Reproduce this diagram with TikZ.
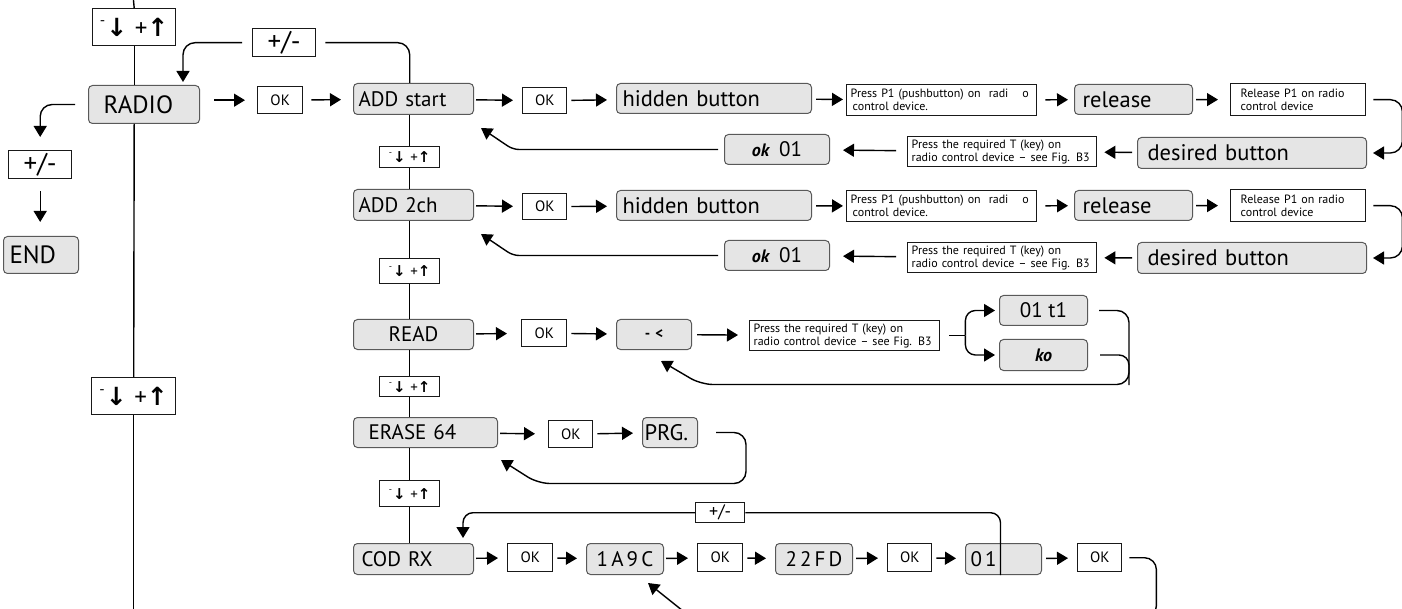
\documentclass[tikz,border=0pt]{standalone}
\usepackage{graphicx}
\usepackage{fontspec}
\setmainfont{PT Sans}
\newfontfamily\arrowfont{DejaVu Sans}
\usetikzlibrary{arrows.meta}

\newcommand\hugetxt{\fontsize{25}{28}\selectfont}
\newcommand\bigtxt{\fontsize{22.5}{25}\selectfont}
\newcommand\medtxt{\fontsize{21}{24}\selectfont}
\newcommand\keytxt{\fontsize{15}{17}\selectfont}
\newcommand\oktxt{\fontsize{15}{16}\selectfont}
\newcommand\notetxt{\fontsize{12}{13}\selectfont}
\newcommand\minusplus{\raisebox{.45em}{\scalebox{.6}{-}}\hspace{1pt}{\arrowfont\bfseries ↓}\hspace{.3em}+{\arrowfont\bfseries ↑}}
\newcommand\okglyph{{\bfseries\itshape\fontsize{18}{20}\selectfont ok}}
\newcommand\spaced[1]{{\addfontfeatures{LetterSpace=15}#1}}

\begin{document}
\begin{tikzpicture}[x=1pt, y=-1pt,
  gbox/.style={draw=black!65, fill=black!10, rounded corners=4pt, line width=1pt, anchor=north west, inner ysep=0pt, font=\bigtxt},
  wbox/.style={draw=black!90, fill=white, line width=1.4pt, anchor=north west, inner sep=0pt, font=\oktxt},
  note/.style={wbox, font=\notetxt, align=left, inner xsep=4pt},
  keys/.style={wbox, font=\keytxt},
  flow/.style={-{Triangle[length=11pt,width=13pt]}, line width=1.4pt, shorten <=4pt, shorten >=9pt},
  back/.style={-{Triangle[length=11pt,width=13pt]}, line width=1.4pt},
  wire/.style={line width=1.4pt}]
  \useasboundingbox (0,0) rectangle (1402,609);

  \node[keys, minimum width=83pt, minimum height=37pt, font=\hugetxt] (pm1) at (92,8) {\minusplus};
  \node[gbox, minimum height=38pt, text width=81pt, inner xsep=15pt, font=\hugetxt] (radio) at (88,85) {RADIO};
  \node[wbox, minimum width=63pt, minimum height=28pt, font=\fontsize{27}{28}\selectfont] (pmradio) at (8,150) {+/-};
  \node[gbox, minimum height=37pt, text width=63pt, inner xsep=6pt, font=\hugetxt] (end) at (3,236) {END};
  \node[keys, minimum width=84pt, minimum height=37pt, font=\hugetxt] (pm2) at (91,377) {\minusplus};
  \node[wbox, minimum width=63pt, minimum height=28pt, font=\fontsize{27}{28}\selectfont] (pmtop) at (252,28) {+/-};
  \node[wbox, minimum width=45pt, minimum height=27pt] (okradio) at (257,86) {OK};

  \node[gbox, minimum height=31pt, text width=110pt, inner xsep=5pt, font=\medtxt] (addstart) at (353,83) {ADD start};
  \node[wbox, minimum width=44pt, minimum height=26pt] (ok1) at (522,87) {OK};
  \node[gbox, minimum height=30pt, text width=183pt, inner xsep=6pt] (hidden1) at (616,83) {hidden button};
  \node[note, minimum height=31pt, text width=182pt] (press1) at (846,84) {Press P1 (pushbutton) on\ \ radi\hspace{14pt}o\\\hspace*{2pt}control device.};
  \node[gbox, minimum height=30pt, text width=102pt, inner xsep=8pt] (release1) at (1074,84) {release};
  \node[note, minimum height=32pt, text width=115pt, inner xsep=10pt] (rel1) at (1230,83) {Release P1 on radio\\control device};
  \node[gbox, minimum height=31pt, text width=209pt, inner xsep=10pt] (desired1) at (1137,137) {desired button};
  \node[note, minimum height=30pt, text width=181pt] (req1) at (907,136) {Press the required T (key) on\\radio control device -- see Fig. B3};
  \node[gbox, minimum width=105pt, minimum height=30pt, font=\medtxt] (ok01a) at (724,134) {\okglyph\hspace{10pt}01};
  \node[keys, minimum width=60pt, minimum height=21pt] (c1) at (379,146) {\minusplus};

  \node[gbox, minimum height=31pt, text width=110pt, inner xsep=5pt, font=\medtxt] (add2ch) at (353,189) {ADD 2ch};
  \node[wbox, minimum width=44pt, minimum height=26pt] (ok2) at (522,193) {OK};
  \node[gbox, minimum height=30pt, text width=183pt, inner xsep=6pt] (hidden2) at (616,190) {hidden button};
  \node[note, minimum height=31pt, text width=182pt] (press2) at (846,190) {Press P1 (pushbutton) on\ \ radi\hspace{14pt}o\\\hspace*{2pt}control device.};
  \node[gbox, minimum height=30pt, text width=102pt, inner xsep=8pt] (release2) at (1074,190) {release};
  \node[note, minimum height=32pt, text width=115pt, inner xsep=10pt] (rel2) at (1230,189) {Release P1 on radio\\control device};
  \node[gbox, minimum height=31pt, text width=209pt, inner xsep=10pt] (desired2) at (1137,242) {desired button};
  \node[note, minimum height=30pt, text width=181pt] (req2) at (907,242) {Press the required T (key) on\\radio control device -- see Fig. B3};
  \node[gbox, minimum width=105pt, minimum height=30pt, font=\medtxt] (ok01b) at (724,240) {\okglyph\hspace{10pt}01};
  \node[keys, minimum width=60pt, minimum height=25pt] (c2) at (379,258) {\minusplus};

  \node[gbox, minimum width=120pt, minimum height=30pt, font=\medtxt] (read) at (353,319) {READ};
  \node[wbox, minimum width=45pt, minimum height=27pt] (okread) at (521,319) {OK};
  \node[gbox, minimum width=75pt, minimum height=30pt, font=\keytxt] (dash) at (616,319) {\textbf{-}\hspace{5pt}\textbf{<}\hspace{16pt}};
  \node[note, minimum height=30pt, text width=182pt] (reqread) at (749,320) {Press the required T (key) on\\radio control device -- see Fig. B3};
  \node[gbox, minimum width=88pt, minimum height=30pt, font=\medtxt] (t1) at (999,295) {01 t1};
  \node[gbox, minimum width=88pt, minimum height=31pt] (ko) at (999,339) {{\bfseries\itshape\fontsize{18}{20}\selectfont ko}};
  \node[keys, minimum width=60pt, minimum height=20pt] (c3) at (379,376) {\minusplus};

  \node[gbox, minimum height=30pt, text width=114pt, inner xsep=15pt, font=\medtxt] (erase) at (353,417) {ERASE 64};
  \node[wbox, minimum width=44pt, minimum height=27pt] (okerase) at (548,420) {OK};
  \node[gbox, minimum height=30pt, text width=51pt, inner xsep=2pt] (prg) at (642,417) {PRG.};
  \node[keys, minimum width=60pt, minimum height=26pt] (c4) at (379,480) {\minusplus};

  \node[wbox, minimum width=49pt, minimum height=20pt, font=\fontsize{18}{19}\selectfont] (pmcod) at (695,502) {+/-};
  \node[gbox, minimum height=31pt, text width=104pt, inner xsep=8pt, font=\medtxt] (codrx) at (353,543) {COD RX};
  \node[wbox, minimum width=45pt, minimum height=28pt] (okc1) at (507,543) {OK};
  \node[gbox, minimum width=77pt, minimum height=31pt, font=\medtxt] (c1a9c) at (586,543) {\spaced{1A9C}};
  \node[wbox, minimum width=45pt, minimum height=28pt] (okc2) at (697,543) {OK};
  \node[gbox, minimum width=77pt, minimum height=31pt, font=\medtxt] (c22fd) at (775,543) {\spaced{22FD}};
  \node[wbox, minimum width=44pt, minimum height=28pt] (okc3) at (887,543) {OK};
  \node[gbox, minimum height=31pt, text width=66pt, inner xsep=5pt, font=\medtxt] (c01) at (965,543) {\spaced{01}};
  \node[wbox, minimum width=44pt, minimum height=28pt] (okc4) at (1077,543) {OK};

  \coordinate (lefttop) at (133,-5);
  \coordinate (leftbot) at (133,615);
  \draw[wire] (lefttop) -- (pm1.north);
  \draw[wire] (pm1.south) -- (pm1.south |- radio.north);
  \draw[wire] (pm1.south |- radio.south) -- (pm2.north);
  \draw[wire] (pm2.south) -- (pm2.south |- leftbot);

  \draw[wire, rounded corners=12pt] ([xshift=9pt]pmtop.east) -| (c1.north |- addstart.north);
  \draw[wire] (c1.north |- addstart.south) -- (c1.north);
  \draw[wire] (c1.south) -- (c1.south |- add2ch.north);
  \draw[wire] (c2.north |- add2ch.south) -- (c2.north);
  \draw[wire] (c2.south) -- (c2.south |- read.north);
  \draw[wire] (c3.north |- read.south) -- (c3.north);
  \draw[wire] (c3.south) -- (c3.south |- erase.north);
  \draw[wire] (c4.north |- erase.south) -- (c4.north);
  \draw[wire] (c4.south) -- (c4.south |- codrx.north);

  \draw[back, rounded corners=12pt] ([xshift=-10pt]pmtop.west) -| ([xshift=-17pt,yshift=3pt]radio.north east);
  \draw[back, rounded corners=12pt] ([xshift=-13pt]radio.west) -| ([yshift=13pt]pmradio.north);
  \draw[back, shorten <=12pt, shorten >=14pt] (pmradio.south) -- (pmradio.south |- end.north);
  \draw[flow, shorten <=14pt, shorten >=12pt] (okradio.west -| radio.east) -- (okradio.west);
  \draw[flow, shorten <=8pt, shorten >=12pt] (okradio) -- (addstart);

  \draw[flow, shorten <=2pt] (addstart) -- (ok1);
  \draw[flow] (ok1) -- (hidden1);
  \draw[flow, shorten >=3pt] (hidden1) -- (press1);
  \draw[flow, shorten <=8pt, shorten >=6pt] (press1) -- (release1);
  \draw[flow, shorten <=3pt, shorten >=12pt] (release1) -- (rel1);
  \draw[back, rounded corners=12pt] ([xshift=7pt]rel1.east) -- ++(29,0) |- ([xshift=6pt]desired1.east);
  \draw[flow, shorten <=5pt, shorten >=7pt] (desired1) -- (req1);
  \draw[flow, shorten <=11pt, shorten >=13pt] (req1) -- (ok01a);
  \draw[back, rounded corners=6pt] ([xshift=-6pt]ok01a.west) -- ++(-205,0) -- ([xshift=7pt,yshift=-13pt]addstart.south east);

  \draw[flow, shorten <=2pt] (add2ch) -- (ok2);
  \draw[flow] (ok2) -- (hidden2);
  \draw[flow, shorten >=3pt] (hidden2) -- (press2);
  \draw[flow, shorten <=8pt, shorten >=6pt] (press2) -- (release2);
  \draw[flow, shorten <=3pt, shorten >=12pt] (release2) -- (rel2);
  \draw[back, rounded corners=12pt] ([xshift=7pt]rel2.east) -- ++(29,0) |- ([xshift=6pt]desired2.east);
  \draw[flow, shorten <=5pt, shorten >=7pt] (desired2) -- (req2);
  \draw[flow, shorten <=11pt, shorten >=13pt] (req2) -- (ok01b);
  \draw[back, rounded corners=6pt] ([xshift=-6pt]ok01b.west) -- ++(-205,0) -- ([xshift=7pt,yshift=-13pt]add2ch.south east);

  \draw[flow, shorten <=2pt, shorten >=14pt] (read) -- (okread);
  \draw[flow] (okread) -- (dash);
  \draw[flow, shorten <=5pt, shorten >=11pt] (dash) -- (reqread);
  \coordinate (split) at ([xshift=25pt]reqread.east);
  \draw[wire] ([xshift=9pt]reqread.east) -- (split);
  \draw[back, rounded corners=10pt] (split) |- ([xshift=-4pt]t1.west);
  \draw[back, rounded corners=10pt] (split) |- ([xshift=-4pt]ko.west);
  \draw[back, rounded corners=12pt] ([xshift=11pt]t1.east) -- ++(30,0) -- ++(0,74) -- ++(-428,0) -- ([xshift=-31pt,yshift=-11pt]dash.south east);
  \draw[wire, rounded corners=10pt] ([xshift=12pt]ko.east) -- ++(29,0) -- ++(0,30);

  \draw[flow, shorten <=2pt, shorten >=13pt] (erase) -- (okerase);
  \draw[flow] (okerase) -- (prg);
  \draw[back, rounded corners=12pt] ([xshift=18pt]prg.east) -- ++(30,0) -- ++(0,51) -- ++(-208,0) -- ([xshift=3pt,yshift=-12pt]erase.south east);

  \draw[flow, shorten <=2pt] (codrx) -- (okc1);
  \draw[flow] (okc1) -- (c1a9c);
  \draw[flow, shorten <=2pt] (c1a9c) -- (okc2);
  \draw[flow] (okc2) -- (c22fd);
  \draw[flow, shorten <=3pt] (c22fd) -- (okc3);
  \draw[flow] (okc3) -- (c01);
  \draw[flow] (c01) -- (okc4);
  \draw[back, rounded corners=12pt] ([xshift=7pt]okc4.east) -- ++(27,0) -- ++(0,60) -- ++(-465,0) -- ([xshift=23pt,yshift=-8pt]c1a9c.south);
  \draw[back, rounded corners=10pt] (pmcod.west) -| ([xshift=-11pt,yshift=5pt]codrx.north east);
  \draw[wire, rounded corners=10pt] (pmcod.east) -| ([xshift=-3pt]c01.south);
\end{tikzpicture}
\end{document}
